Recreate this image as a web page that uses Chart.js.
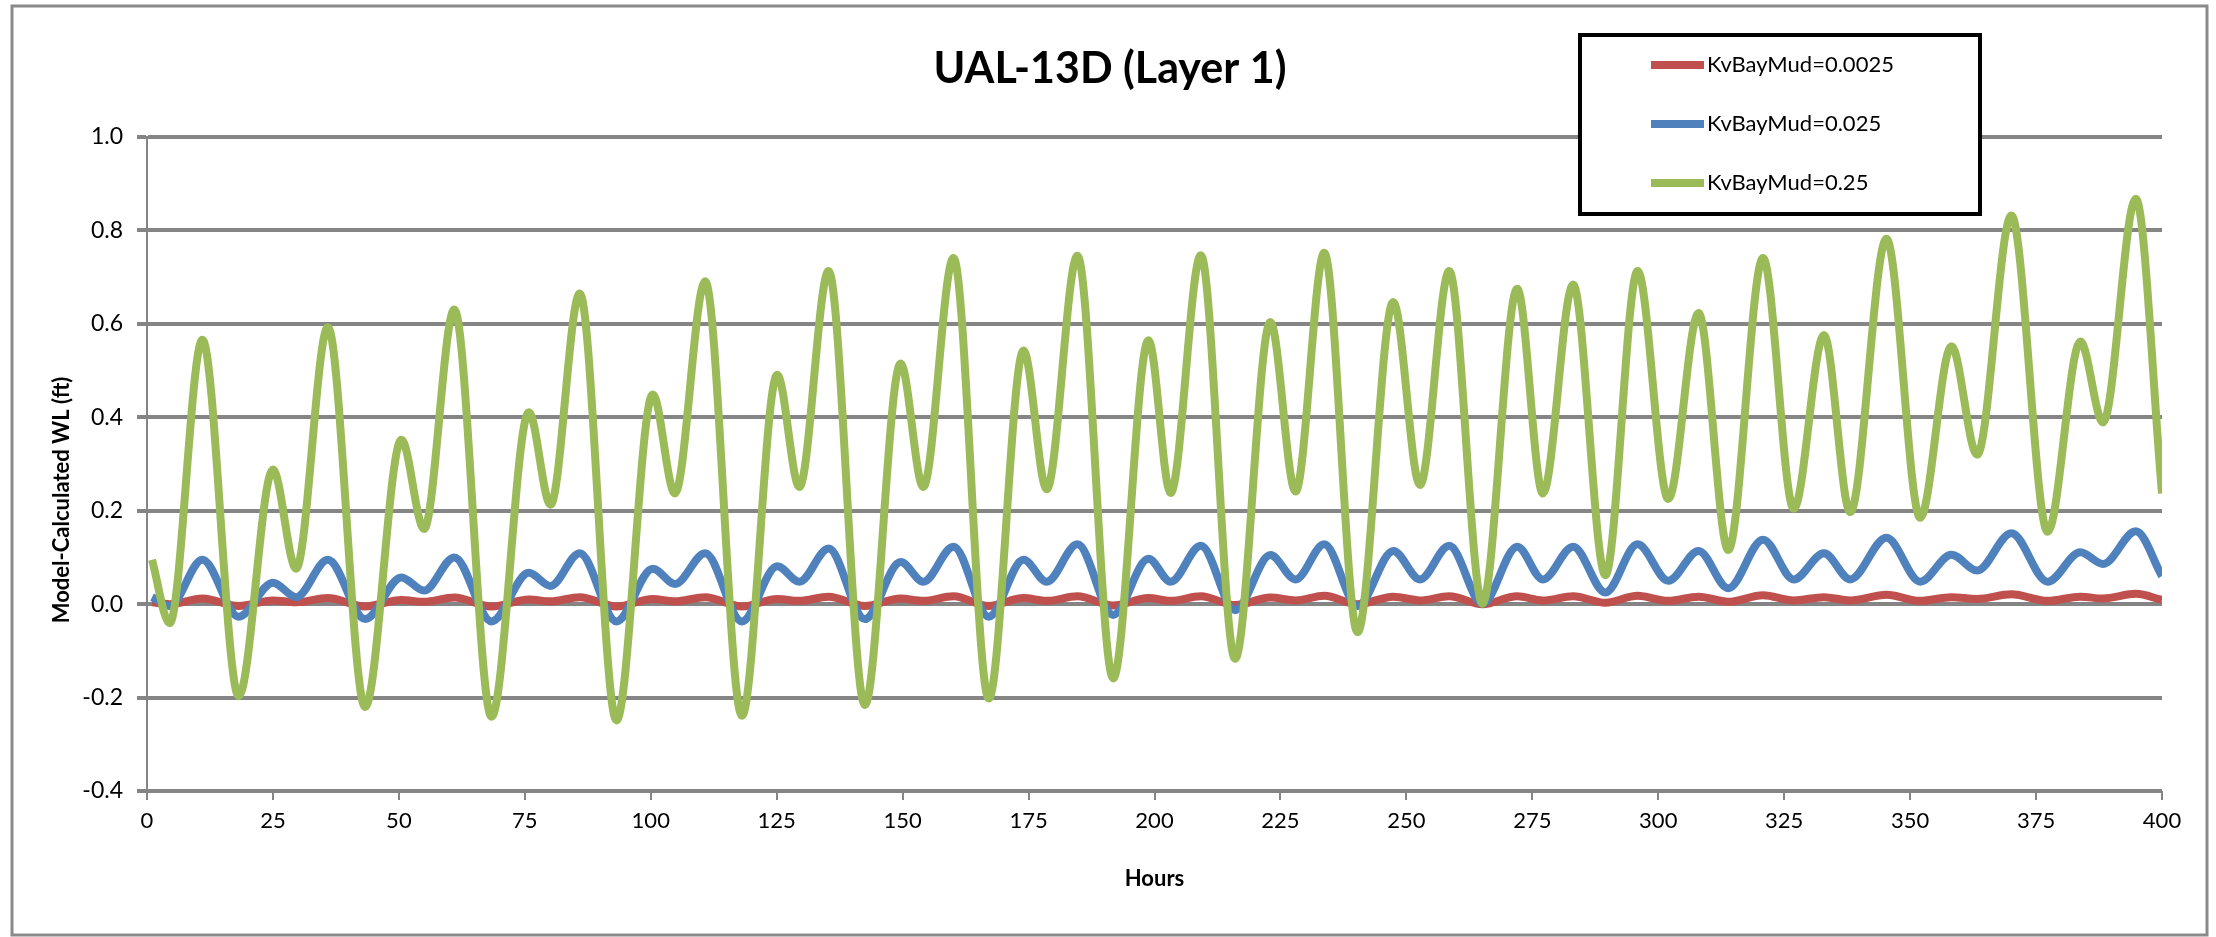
<!DOCTYPE html>
<html>
<head>
<meta charset="utf-8">
<style>
  html, body { margin: 0; padding: 0; background: #ffffff; }
  canvas { display: block; }
</style>
<script src="https://cdn.jsdelivr.net/npm/chart.js@4.4.1/dist/chart.umd.min.js"></script>
</head>
<body>
<canvas id="wl" width="2216" height="937"></canvas>
<script>
// Simulated water level at UAL-13D (Layer 1), turning points of each tide cycle
const hours = [
  1.0, 4.5, 11.0, 18.2, 25.0, 29.6, 35.9, 43.3, 50.5, 55.0,
  61.0, 68.4, 75.8, 80.1, 85.9, 93.2, 100.4, 104.8, 110.8, 118.1,
  125.1, 129.5, 135.3, 142.5, 149.6, 154.1, 160.1, 167.1, 174.0, 178.6,
  184.7, 191.8, 198.8, 203.2, 209.2, 216.0, 223.0, 228.0, 233.7, 240.3,
  247.4, 252.7, 258.5, 265.1, 272.0, 277.1, 283.1, 289.5, 295.9, 302.0,
  308.0, 313.9, 320.8, 326.9, 332.9, 338.1, 345.3, 352.0, 358.2, 363.3,
  370.1, 377.3, 383.8, 388.3, 394.8, 400.0
];

const kv0025 = [
  0.004, 0.000, 0.012, -0.004, 0.008, 0.004, 0.013, -0.005, 0.009, 0.005,
  0.014, -0.005, 0.010, 0.006, 0.015, -0.005, 0.011, 0.006, 0.015, -0.005,
  0.011, 0.007, 0.016, -0.004, 0.012, 0.007, 0.017, -0.004, 0.013, 0.007,
  0.017, -0.003, 0.013, 0.007, 0.017, -0.002, 0.014, 0.008, 0.018, 0.000,
  0.016, 0.008, 0.017, 0.000, 0.017, 0.008, 0.017, 0.003, 0.018, 0.007,
  0.016, 0.005, 0.019, 0.008, 0.015, 0.008, 0.020, 0.007, 0.015, 0.011,
  0.021, 0.007, 0.016, 0.012, 0.022, 0.009
];

const kv025 = [
  0.015, -0.004, 0.095, -0.027, 0.046, 0.015, 0.095, -0.032, 0.057, 0.029,
  0.100, -0.037, 0.067, 0.039, 0.109, -0.037, 0.076, 0.043, 0.109, -0.037,
  0.081, 0.048, 0.119, -0.032, 0.090, 0.048, 0.123, -0.027, 0.095, 0.048,
  0.128, -0.023, 0.097, 0.048, 0.125, -0.013, 0.105, 0.053, 0.128, -0.004,
  0.114, 0.053, 0.125, 0.001, 0.123, 0.053, 0.123, 0.025, 0.128, 0.050,
  0.114, 0.034, 0.138, 0.053, 0.109, 0.053, 0.142, 0.048, 0.106, 0.072,
  0.152, 0.048, 0.111, 0.086, 0.156, 0.060
];

const kv25 = [
  0.095, -0.041, 0.566, -0.197, 0.288, 0.076, 0.593, -0.220, 0.352, 0.161,
  0.631, -0.241, 0.411, 0.213, 0.665, -0.249, 0.449, 0.237, 0.691, -0.239,
  0.491, 0.251, 0.713, -0.216, 0.515, 0.251, 0.741, -0.202, 0.543, 0.246,
  0.746, -0.159, 0.565, 0.238, 0.747, -0.117, 0.604, 0.241, 0.752, -0.060,
  0.647, 0.255, 0.713, 0.001, 0.675, 0.237, 0.684, 0.062, 0.713, 0.225,
  0.623, 0.116, 0.741, 0.204, 0.576, 0.197, 0.782, 0.185, 0.552, 0.320,
  0.832, 0.155, 0.562, 0.389, 0.868, 0.237
];

const seriesNames = ['KvBayMud=0.0025', 'KvBayMud=0.025', 'KvBayMud=0.25'];
const seriesColors = ['#C0504D', '#4F81BD', '#9BBB59'];
const xTicks = [0, 25, 50, 75, 100, 125, 150, 175, 200, 225, 250, 275, 300, 325, 350, 375, 400];
const yTicks = [-0.4, -0.2, 0.0, 0.2, 0.4, 0.6, 0.8, 1.0];

const chartTitle = 'UAL-13D (Layer 1)';
const xTitle = 'Hours';
const yTitle = 'Model-Calculated WL (ft)';

const FONT = 'Lato, "Open Sans", "Liberation Sans", sans-serif';
const GRID = '#858585';

function toPoints(values) {
  return hours.map((h, i) => ({ x: h, y: values[i] }));
}

// Outer frame, centred title, vertical axis title and boxed legend
const decorations = {
  id: 'decorations',
  beforeDraw(chart) {
    const ctx = chart.ctx;
    ctx.save();
    ctx.fillStyle = '#ffffff';
    ctx.fillRect(0, 0, chart.width, chart.height);
    ctx.strokeStyle = '#8a8a8a';
    ctx.lineWidth = 3;
    ctx.strokeRect(12, 6, 2195, 929);
    ctx.restore();
  },
  afterDraw(chart) {
    const ctx = chart.ctx;
    ctx.save();
    // chart title
    ctx.fillStyle = '#000000';
    ctx.font = 'bold 43px ' + FONT;
    ctx.textAlign = 'center';
    ctx.textBaseline = 'alphabetic';
    ctx.fillText(chartTitle, 1110, 83);

    // vertical axis title
    ctx.save();
    ctx.translate(62, 500);
    ctx.rotate(-Math.PI / 2);
    ctx.font = 'bold 22px ' + FONT;
    ctx.textAlign = 'center';
    ctx.textBaseline = 'middle';
    ctx.fillText(yTitle, 0, 0);
    ctx.restore();

    // legend box
    const bx = 1580, by = 35, bw = 400, bh = 179;
    ctx.fillStyle = '#ffffff';
    ctx.fillRect(bx, by, bw, bh);
    ctx.strokeStyle = '#000000';
    ctx.lineWidth = 4;
    ctx.strokeRect(bx, by, bw, bh);
    const rows = [65, 124, 183];
    chart.data.datasets.forEach((ds, i) => {
      const y = rows[i];
      ctx.strokeStyle = ds.borderColor;
      ctx.lineWidth = 8;
      ctx.lineCap = 'butt';
      ctx.beginPath();
      ctx.moveTo(1651, y);
      ctx.lineTo(1704, y);
      ctx.stroke();
      ctx.fillStyle = '#000000';
      ctx.font = '22px ' + FONT;
      ctx.textAlign = 'left';
      ctx.textBaseline = 'middle';
      ctx.fillText(ds.label, 1707, y);
    });
    ctx.restore();
  }
};

const datasets = [kv0025, kv025, kv25].map((vals, i) => ({
  label: seriesNames[i],
  data: toPoints(vals),
  borderColor: seriesColors[i],
  backgroundColor: seriesColors[i],
  borderWidth: 8,
  pointRadius: 0,
  fill: false,
  cubicInterpolationMode: 'monotone',
  order: 3 - i
}));

new Chart(document.getElementById('wl'), {
  type: 'line',
  data: { datasets },
  options: {
    responsive: false,
    animation: false,
    devicePixelRatio: 1,
    layout: { padding: { left: 12, right: 54, top: 137, bottom: 0 } },
    plugins: {
      legend: { display: false },
      title: { display: false },
      tooltip: { enabled: false }
    },
    scales: {
      x: {
        type: 'linear',
        min: 0,
        max: 400,
        afterBuildTicks: s => { s.ticks = xTicks.map(v => ({ value: v })); },
        afterFit: s => { s.height = 146; },
        grid: {
          drawOnChartArea: false,
          drawTicks: true,
          tickLength: 9,
          color: GRID,
          lineWidth: 2
        },
        border: { display: false },
        ticks: {
          padding: 8,
          maxRotation: 0,
          autoSkip: false,
          color: '#000000',
          font: { family: FONT, size: 22 }
        },
        title: {
          display: true,
          text: xTitle,
          color: '#000000',
          font: { family: FONT, size: 22, weight: 'bold' },
          padding: { top: 0, bottom: 45 }
        }
      },
      y: {
        min: -0.4,
        max: 1.0,
        afterBuildTicks: s => { s.ticks = yTicks.map(v => ({ value: v })); },
        afterFit: s => { s.width = 135; },
        grid: {
          drawOnChartArea: true,
          drawTicks: true,
          tickLength: 10,
          color: GRID,
          lineWidth: 4
        },
        border: { display: true, color: GRID, width: 2 },
        ticks: {
          padding: 14,
          color: '#000000',
          font: { family: FONT, size: 23 },
          callback: v => v.toFixed(1)
        },
        title: { display: false }
      }
    }
  },
  plugins: [decorations]
});
</script>
</body>
</html>
